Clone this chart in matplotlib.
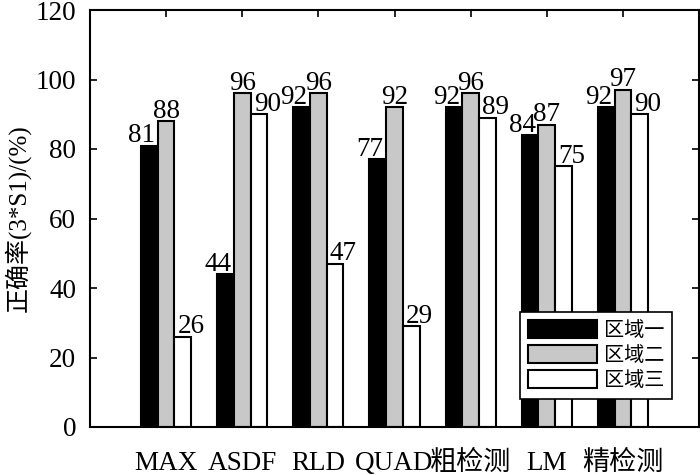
import matplotlib
matplotlib.use("Agg")
import matplotlib.pyplot as plt
import numpy as np

categories = ["MAX", "ASDF", "RLD", "QUAD", "粗检测", "LM", "精检测"]
region1 = [81, 44, 92, 77, 92, 84, 92]
region2 = [88, 96, 96, 92, 96, 87, 97]
region3 = [26, 90, 47, 29, 89, 75, 90]
series_names = ["区域一", "区域二", "区域三"]
series_colors = ["#000000", "#c8c8c8", "#ffffff"]
y_ticks = [0, 20, 40, 60, 80, 100, 120]
y_label = "正确率(3*S1)/(%)"

plt.rcParams['font.family'] = ['Liberation Serif', 'Noto Sans CJK SC']
plt.rcParams['axes.unicode_minus'] = False

fig = plt.figure(figsize=(7, 4.75), dpi=100)
ax = fig.add_axes([90/700, 1-427/475, 609/700, 417/475])

x = np.arange(1, len(categories) + 1)
w = 0.22
offsets = [-w, 0, w]
label_offsets = [-0.32, 0.0, 0.33]
all_series = [region1, region2, region3]
for vals, off, loff, col, name in zip(all_series, offsets, label_offsets, series_colors, series_names):
    ax.bar(x + off, vals, width=w, color=col, edgecolor='black', linewidth=1.5, label=name, zorder=2)
    for xi, v in zip(x, vals):
        ax.text(xi + loff, v + 1.0, f"{v}", ha='center', va='baseline', fontsize=19.5, zorder=3)

ax.set_xlim(0, 8)
ax.set_ylim(0, 120)
ax.set_yticks(y_ticks)
ax.set_xticks(x)
ax.set_xticklabels(categories)
ax.tick_params(axis='both', direction='in', length=5, width=1.2, labelsize=19.5,
               top=True, right=True)
ax.tick_params(axis='x', pad=17)
ax.tick_params(axis='y', pad=10)
for s in ax.spines.values():
    s.set_linewidth(1.5)
ax.set_ylabel(y_label, fontsize=18)
ax.yaxis.set_label_coords(-0.098, 0.5)

leg = ax.legend(loc='lower right', bbox_to_anchor=((672-90)/609, (427-399)/417),
                borderaxespad=0, fancybox=False, edgecolor='black', framealpha=1,
                fontsize=14.5, handlelength=3.4, handleheight=1.0, labelspacing=0.2,
                handletextpad=0.35, borderpad=0.4)
leg.get_frame().set_linewidth(1.2)

fig.savefig("out.png", dpi=100)
